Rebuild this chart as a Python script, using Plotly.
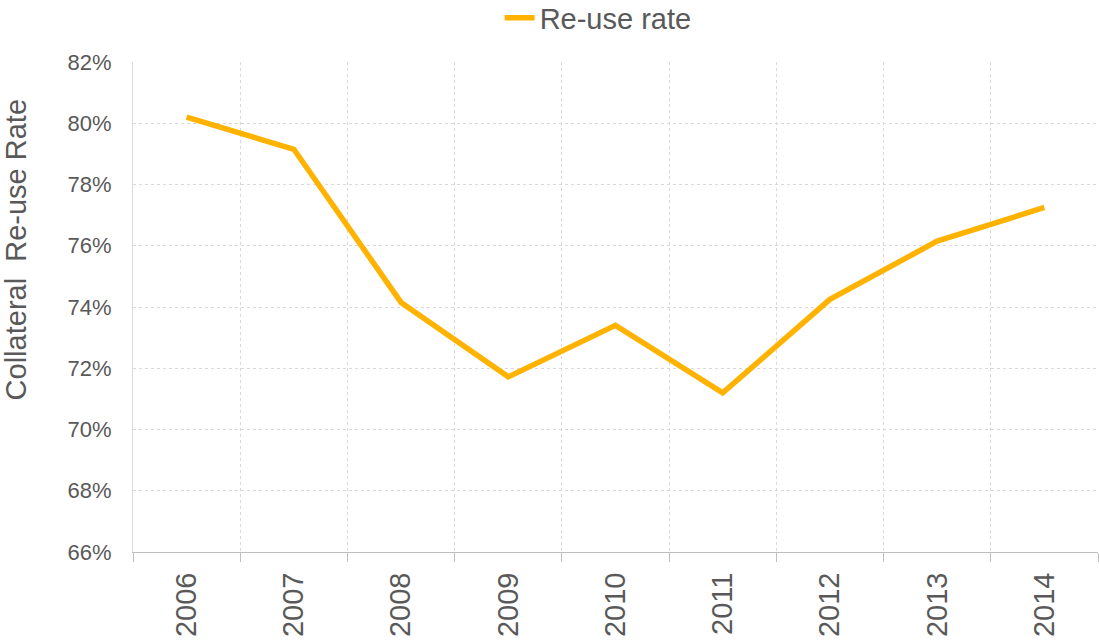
import plotly.graph_objects as go

# Collateral re-use rate by year
years = ["2006", "2007", "2008", "2009", "2010", "2011", "2012", "2013", "2014"]
reuse_rate = [0.802, 0.7915, 0.7415, 0.7172, 0.734, 0.712, 0.7425, 0.7615, 0.7725]

grey_text = "#595959"
font_family = "Liberation Sans, Arial, sans-serif"

fig = go.Figure()
fig.add_trace(go.Scatter(
    x=years, y=reuse_rate, mode="lines", name="Re-use rate",
    line=dict(color="#FFB300", width=5.5),
))

fig.update_layout(
    width=1099, height=642,
    margin=dict(l=133, r=1, t=62, b=90, autoexpand=False),
    paper_bgcolor="white", plot_bgcolor="white",
    font=dict(family=font_family, color=grey_text),
    showlegend=True,
    legend=dict(orientation="h", x=0.482, xanchor="center", y=0.972, yanchor="middle",
                yref="container", font=dict(size=29, color=grey_text)),
)

fig.update_xaxes(
    type="category", tickson="boundaries", range=[-0.5, len(years) - 0.5],
    ticks="outside", ticklen=9, tickcolor="#bfbfbf",
    showgrid=True, gridcolor="#d9d9d9", griddash="dot",
    showline=True, linecolor="#bfbfbf", linewidth=1,
    tickangle=-90, tickfont=dict(size=29, color=grey_text),
    ticklabelstandoff=8, automargin=False,
)
fig.update_yaxes(
    range=[0.66, 0.82], dtick=0.02, tickformat=".0%",
    showgrid=True, gridcolor="#d9d9d9", griddash="dot",
    showline=True, linecolor="#d9d9d9", linewidth=1,
    zeroline=False, ticks="", ticklabelstandoff=16,
    tickfont=dict(size=22, color=grey_text),
    automargin=False,
)

fig.add_annotation(
    text="Collateral  Re-use Rate", textangle=-90,
    xref="paper", yref="paper", x=-0.121, y=0.616,
    xanchor="center", yanchor="middle", showarrow=False,
    font=dict(size=29, color=grey_text),
)

# drop the default page margin so the figure fills the window
fig.write_html("out.html", config={"displayModeBar": False},
               post_script="document.body.style.margin='0';")
